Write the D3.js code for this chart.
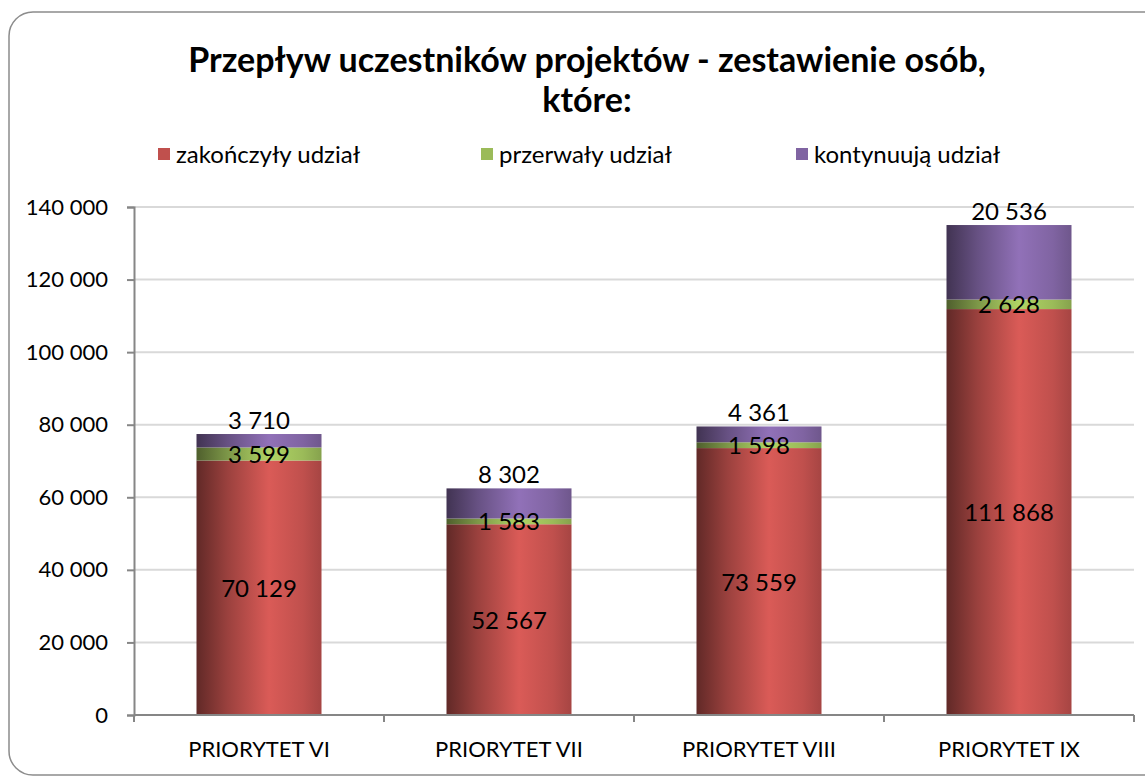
<!DOCTYPE html>
<html>
<head>
<meta charset="utf-8">
<script src="https://cdn.jsdelivr.net/npm/d3@7"></script>
<style>
  body { margin: 0; background: #fff; }
  text { font-family: Lato, "Open Sans", sans-serif; fill: #000; }
</style>
</head>
<body>
<div id="chart"></div>
<script>
// data
var categories = ["PRIORYTET VI", "PRIORYTET VII", "PRIORYTET VIII", "PRIORYTET IX"];
var seriesNames = ["zakończyły udział", "przerwały udział", "kontynuują udział"];
var finished = [70129, 52567, 73559, 111868];
var interrupted = [3599, 1583, 1598, 2628];
var continuing = [3710, 8302, 4361, 20536];
var yTicks = [0, 20000, 40000, 60000, 80000, 100000, 120000, 140000];
var colors = ["#C0504D", "#9BBB59", "#8064A2"];

var svgWidth = 1145;
var svgHeight = 781;
var margin = { top: 207, right: 11, bottom: 66, left: 134 };
var width = svgWidth - margin.left - margin.right;
var height = svgHeight - margin.top - margin.bottom;

var svg = d3.select("#chart").append("svg")
  .attr("width", svgWidth)
  .attr("height", svgHeight);

// gradients for the cylinder-like shading
var defs = svg.append("defs");
colors.forEach(function(c, i) {
  var base = d3.rgb(c);
  var g = defs.append("linearGradient")
    .attr("id", "grad" + i)
    .attr("x1", "0%").attr("x2", "100%").attr("y1", "0%").attr("y2", "0%");
  g.append("stop").attr("offset", "0%").attr("stop-color", base.darker(1.9));
  g.append("stop").attr("offset", "25%").attr("stop-color", base.darker(0.6));
  g.append("stop").attr("offset", "58%").attr("stop-color", base.brighter(0.35));
  g.append("stop").attr("offset", "85%").attr("stop-color", base);
  g.append("stop").attr("offset", "100%").attr("stop-color", base.darker(0.4));
});

// frame
svg.append("rect")
  .attr("x", 9).attr("y", 12)
  .attr("width", 1170).attr("height", 763)
  .attr("rx", 24)
  .attr("fill", "#fff")
  .attr("stroke", "#8c8c8c")
  .attr("stroke-width", 1.5);

// title
svg.append("text")
  .attr("x", 587).attr("y", 72)
  .attr("text-anchor", "middle")
  .style("font-size", "34px").style("font-weight", "bold")
  .text("Przepływ uczestników projektów - zestawienie osób,");
svg.append("text")
  .attr("x", 587).attr("y", 112)
  .attr("text-anchor", "middle")
  .style("font-size", "34px").style("font-weight", "bold")
  .text("które:");

// legend
var legendX = [158, 481, 796];
seriesNames.forEach(function(name, i) {
  svg.append("rect")
    .attr("x", legendX[i]).attr("y", 148)
    .attr("width", 12).attr("height", 12)
    .attr("fill", colors[i]);
  svg.append("text")
    .attr("x", legendX[i] + 18).attr("y", 163)
    .style("font-size", "24px")
    .text(name);
});

var chartGroup = svg.append("g")
  .attr("transform", `translate(${margin.left}, ${margin.top})`);

var x = d3.scaleBand().domain(categories).range([0, width]).paddingInner(0.5).paddingOuter(0.25);
var xOuter = d3.scaleBand().domain(categories).range([0, width]);
var y = d3.scaleLinear().domain([0, 140000]).range([height, 0]);

// gridlines
chartGroup.selectAll(".grid")
  .data(yTicks.slice(1))
  .enter().append("line")
  .attr("x1", 0).attr("x2", width)
  .attr("y1", d => y(d)).attr("y2", d => y(d))
  .attr("stroke", "#d9d9d9")
  .attr("stroke-width", 2);

var fmt = function(v) {
  return d3.format(",")(v).replace(/,/g, " ");
};

// y axis
var leftAxis = d3.axisLeft(y).tickValues(yTicks).tickSize(7).tickPadding(19).tickFormat(fmt);
var yAxisG = chartGroup.append("g").call(leftAxis);
yAxisG.select(".domain").attr("stroke", "#868686").attr("stroke-width", 2);
yAxisG.selectAll(".tick line").attr("stroke", "#868686").attr("stroke-width", 2);
yAxisG.selectAll(".tick text").style("font-size", "22px").style("font-family", "Lato, sans-serif").attr("fill", "#000");

// stack
var rows = categories.map(function(c, i) {
  return { cat: c, s0: finished[i], s1: interrupted[i], s2: continuing[i] };
});
var stack = d3.stack().keys(["s0", "s1", "s2"]);
var stacked = stack(rows);

stacked.forEach(function(layer, li) {
  chartGroup.selectAll(".bar" + li)
    .data(layer)
    .enter().append("rect")
    .attr("x", d => x(d.data.cat))
    .attr("width", x.bandwidth())
    .attr("y", d => y(d[1]))
    .attr("height", d => y(d[0]) - y(d[1]))
    .attr("fill", "url(#grad" + li + ")");
});

// data labels
stacked.forEach(function(layer, li) {
  chartGroup.selectAll(".lab" + li)
    .data(layer)
    .enter().append("text")
    .attr("x", d => x(d.data.cat) + x.bandwidth() / 2)
    .attr("y", function(d) {
      if (li == 2) return y(d[1]) - 5;
      return (y(d[0]) + y(d[1])) / 2 + 9;
    })
    .attr("text-anchor", "middle")
    .style("font-size", "24px")
    .text(d => fmt(d[1] - d[0]));
});

// x axis
var xAxisG = chartGroup.append("g").attr("transform", `translate(0, ${height})`);
xAxisG.append("line")
  .attr("x1", 0).attr("x2", width)
  .attr("stroke", "#868686").attr("stroke-width", 2);
var bounds = categories.map(c => xOuter(c)).concat([width]);
xAxisG.selectAll(".xt")
  .data(bounds)
  .enter().append("line")
  .attr("x1", d => d).attr("x2", d => d)
  .attr("y1", 0).attr("y2", 7)
  .attr("stroke", "#868686").attr("stroke-width", 2);
xAxisG.selectAll(".xl")
  .data(categories)
  .enter().append("text")
  .attr("x", d => xOuter(d) + xOuter.bandwidth() / 2)
  .attr("y", 42)
  .attr("text-anchor", "middle")
  .style("font-size", "22px")
  .attr("fill", "#222")
  .text(d => d);
</script>
</body>
</html>
